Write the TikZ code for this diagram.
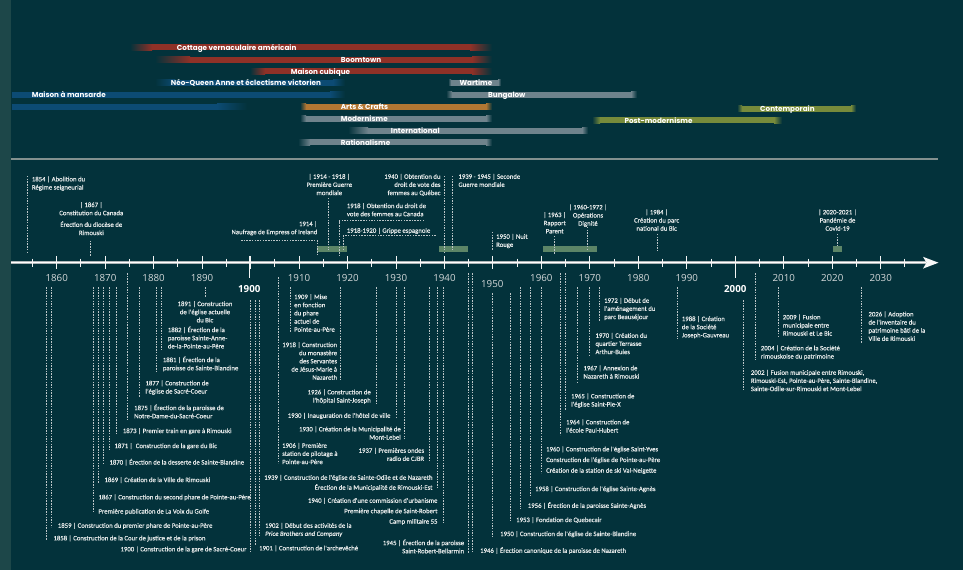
\documentclass[tikz,border=0pt]{standalone}
\usepackage{fontspec}
\setmainfont{Carlito}
\newfontfamily\evfont[FakeBold=0.35]{Carlito}
\newfontfamily\yearfont{Open Sans}
\newfontfamily\stylefont{Poppins}
\definecolor{bg}{HTML}{03323B}
\definecolor{edge}{HTML}{1D4749}
\definecolor{barred}{HTML}{8F3127}
\definecolor{barblue}{HTML}{0C4B74}
\definecolor{barorange}{HTML}{B27733}
\definecolor{bargray}{HTML}{6F838C}
\definecolor{barolive}{HTML}{778B3B}
\definecolor{bandgreen}{HTML}{5C8567}
\definecolor{evtext}{HTML}{E6EAEA}
\definecolor{leadgray}{HTML}{BCC5C7}
\definecolor{yeartext}{HTML}{D3D8D9}
\definecolor{axisgray}{HTML}{AEB5B7}
\definecolor{sepgray}{HTML}{83918F}

\begin{document}
\begin{tikzpicture}
  [x=1bp,y=-1bp,
   ev/.style={font=\evfont\fontsize{6.75}{8.2}\selectfont,text=evtext,inner sep=0pt,align=left,anchor=north west},
   evr/.style={ev,align=right,anchor=north east},
   evc/.style={ev,align=center,anchor=north},
   lead/.style={draw=leadgray,line width=0.7bp,dash pattern=on 1.5bp off 1.2bp},
   yr/.style={font=\yearfont\fontsize{9.8}{10}\selectfont,text=yeartext,inner sep=0pt},
   yrbold/.style={yr,font=\yearfont\bfseries\fontsize{9.8}{10}\selectfont,text=white},
   lbl/.style={font=\stylefont\bfseries\fontsize{7.25}{7.25}\selectfont,text=white,inner sep=0pt,anchor=west,text height=5bp,text depth=1.5bp}]
  \fill[bg] (0,0) rectangle (963,570);
  \fill[edge] (0,0) rectangle (11,570);
  \useasboundingbox (0,0) rectangle (963,570);

  % style bars
  \foreach \col/\xa/\xb/\y/\fa/\fb in {barred/130/492/47.5/22/22,barred/155/492/60/35/20,
      barred/250/492/71.5/15/20,barblue/155/345/83/20/12,barblue/11/345/95/0.5/15,
      barblue/11/247/107/0.5/30,barorange/300/492/107/6/6,bargray/300/492/119/6/6,
      bargray/348/588/131/20/6,bargray/298/492/142.5/12/6,bargray/448/501/83/3/3,
      bargray/446/637/95/6/6,barolive/737/856/109/5/5,barolive/592/782/120.5/8/8}
  {
    \shade[left color=bg,right color=\col] (\xa,\y-3) rectangle (\xa+\fa,\y+3);
    \fill[\col] (\xa+\fa,\y-3) rectangle (\xb-\fb,\y+3);
    \shade[left color=\col,right color=bg] (\xb-\fb,\y-3) rectangle (\xb,\y+3);
  }
  \node[lbl] (cottage) at (176.7,48.3) {Cottage vernaculaire américain};
  \node[lbl] (boomtown) at (340.7,60.8) {Boomtown};
  \node[lbl] (cubique) at (290.7,72.3) {Maison cubique};
  \node[lbl] (queenanne) at (170.7,83.8) {Néo-Queen Anne et éclectisme victorien};
  \node[lbl] (mansarde) at (31.7,95.8) {Maison à mansarde};
  \node[lbl] (arts) at (340.7,107.8) {Arts \& Crafts};
  \node[lbl] (modern) at (340.7,119.8) {Modernisme};
  \node[lbl] (intl) at (390.7,131.8) {International};
  \node[lbl] (ration) at (340.7,143.3) {Rationalisme};
  \node[lbl] (wartime) at (459.3,83.8) {Wartime};
  \node[lbl] (bungalow) at (488,95.8) {Bungalow};
  \node[lbl] (contemp) at (760,109.8) {Contemporain};
  \node[lbl] (postmod) at (624.3,121.3) {Post-modernisme};

  \draw[sepgray,line width=1.3bp] (11,159) -- (938.3,159);

  % periods on the axis
  \foreach \xa/\xb in {317.3/346.7,439.3/467.7,542.5/597.3,832.7/841.7}
    \fill[bandgreen] (\xa,246) rectangle (\xb,252);

  % axis
  \draw[axisgray,line width=3.2bp] (11,262.7) -- (926,262.7);
  \draw[white,line width=1bp] (11,262.7) -- (926,262.7);
  \fill[white!90!axisgray] (923,256.8) -- (938.5,262.7) -- (923,268.6) -- (926.5,262.7) -- cycle;
  \foreach \yr [evaluate=\yr as \xx using 56.7+(\yr-1860)*4.847] in {1855,1865,...,2035}
    \draw[white!85!axisgray,line width=0.9bp] (\xx,258.5) -- (\xx,267);
  \foreach \yr [evaluate=\yr as \xx using 56.7+(\yr-1860)*4.847] in {1860,1870,...,2030}
    \draw[white!85!axisgray,line width=0.9bp] (\xx,256) -- (\xx,268.5);
  \draw[white!85!axisgray,line width=0.9bp] (249.3,256) -- (249.3,278);
  \draw[white!85!axisgray,line width=0.9bp] (735.3,256) -- (735.3,278);
  \foreach \yr [evaluate=\yr as \xx using 56.7+(\yr-1860)*4.847] in {1860,1870,1880,1890,1910,1920,1930,1940,1960,1970,1980,1990,2010,2020,2030}
    \node[yr] (y\yr) at (\xx,278) {\yr};
  \node[yr] (y1950) at (492.3,284) {1950};
  \node[yrbold] (y1900) at (249.3,289) {1900};
  \node[yrbold] (y2000) at (735.3,289) {2000};

  % leaders
  \foreach \xx/\ya/\yb in {27.7/176/253,90/240.7/256,328.3/198/250,444/176/252,452.7/176/250,
      492.3/232/250,554.3/236/254,587.7/227/250,657.3/234/251,837.3/234/246,
      205/287/297,161.7/287/350,156.7/287/371,139.3/287/396.7,127.7/273/420,116.7/287/433.3,
      109/287/449.3,103.5/287/463.3,98.5/287/483.3,93/287/512,51.7/287/527.3,46.7/287/540,
      250.7/300/552,255/300/545,259.3/300/536,278.5/277/463.3,290.7/287/331.7,340.7/287/380,
      376/287/403.3,396/287/418.3,404/287/439.3,429.3/287/461.7,437.3/287/489,443.3/287/523.3,
      468.3/273/553,472.7/273/552,492.7/293/536.7,510/293/522.3,520.7/287/509,530.7/287/495,
      541.7/287/473.3,560/273/435,565.5/273/410,577.3/287/381.7,589.3/287/355,599.3/287/321.7,
      677.3/287/339,743.3/300/390,755.7/273/360,778.3/287/336.7,861.7/287/343.3}
    \draw[lead] (\xx,\ya) -- (\xx,\yb);
  \draw[lead] (241,240.7) -- (317,240.7) -- (317,254);
  \draw[lead] (424,220.7) -- (339.3,220.7) -- (339.3,255);
  \draw[lead] (435.7,235.7) -- (343.3,235.7) -- (343.3,250);

  % events above the axis
  \node[ev] (u1854) at (31.7,176.3) {1854 | Abolition du\\Régime seigneurial};
  \node[evc] (u1867) at (91.3,202) {| 1867 |\\Constitution du Canada\\[3.5bp]Érection du diocèse de\\Rimouski};
  \node[evr] (u1914) at (317.5,221) {1914 |\\Naufrage de Empress of Ireland};
  \node[evc] (u1916) at (329.3,173.7) {| 1914 - 1918 |\\Première Guerre\\mondiale};
  \node[ev] (u1918) at (346.7,203) {1918 | Obtention du droit de\\vote des femmes au Canada};
  \node[ev] (u1919) at (346.7,227.7) {1918-1920 | Grippe espagnole};
  \node[evr] (u1940) at (440.7,173.7) {1940 | Obtention du\\droit de vote des\\femmes au Québec};
  \node[ev] (u1942) at (458.3,173.7) {1939 - 1945 | Seconde\\Guerre mondiale};
  \node[ev] (u1950) at (496,233.7) {1950 | Nuit\\Rouge};
  \node[evc] (u1963) at (554.7,212) {| 1963 |\\Rapport\\Parent};
  \node[evc] (u1966) at (588,204.3) {| 1960-1972 |\\Opérations\\Dignité};
  \node[evc] (u1984) at (656.7,209.3) {| 1984 |\\Création du parc\\national du Bic};
  \node[evc] (u2020) at (837.5,209.3) {| 2020-2021 |\\Pandémie de\\Covid-19};

  % events below the axis
  \node[evc] (e1891) at (205,301) {1891 | Construction\\de l'église actuelle\\du Bic};
  \node[ev] (e1882) at (167.7,326.3) {1882 | Érection de la\\paroisse Sainte-Anne-\\de-la-Pointe-au-Père};
  \node[ev] (e1881) at (162.7,356.3) {1881 | Érection de la\\paroisse de Sainte-Blandine};
  \node[ev] (e1877) at (145.3,380.3) {1877 | Construction de\\l'église de Sacré-Coeur};
  \node[ev] (e1875) at (134,404.3) {1875 | Érection de la paroisse de\\Notre-Dame-du-Sacré-Coeur};
  \node[ev] (e1873) at (122.7,428) {1873 | Premier train en gare à Rimouski};
  \node[ev] (e1871) at (114.3,443) {1871 |\ \ Construction de la gare du Bic};
  \node[ev] (e1870) at (109.3,458.7) {1870 | Érection de la desserte de Sainte-Blandine};
  \node[ev] (e1869) at (104.3,477) {1869 | Création de la Ville de Rimouski};
  \node[ev] (e1867) at (98.3,494.3) {1867 | Construction du second phare de Pointe-au-Père};
  \node[ev] (e1867b) at (98.3,508.7) {Première publication de La Voix du Golfe};
  \node[ev] (e1859) at (57.7,522.7) {1859 | Construction du premier phare de Pointe-au-Père};
  \node[ev] (e1858) at (53.3,535.3) {1858 | Construction de la Cour de justice et de la prison};
  \node[evr] (e1900) at (246.7,546.3) {1900 | Construction de la gare de Sacré-Coeur};
  \node[ev] (e1901) at (259,545.3) {1901 | Construction de l'archevêché};
  \node[ev] (e1902) at (265,522.7) {1902 | Début des activités de la\\\textit{Price Brothers and Company}};
  \node[ev] (e1906) at (282,442.7) {1906 | Première\\station de pilotage à\\Pointe-au-Père};
  \node[ev] (e1909) at (294,294) {1909 | Mise\\en fonction\\du phare\\actuel de\\Pointe-au-Père};
  \node[evr] (e1918) at (337.3,342) {1918 | Construction\\du monastère\\des Servantes\\de Jésus-Marie à\\Nazareth};
  \node[evr] (e1926) at (371,389.3) {1926 | Construction de\\l'hôpital Saint-Joseph};
  \node[evr] (e1930) at (390.7,412.7) {1930 | Inauguration de l'hôtel de ville};
  \node[evr] (e1930b) at (401,426.3) {1930 | Création de la Municipalité de\\Mont-Lebel};
  \node[evr] (e1937) at (424.3,447.7) {1937 | Premières ondes\\radio de CJBR};
  \node[evr] (e1939) at (432.7,474.7) {1939 | Construction de l'église de Sainte-Odile et de Nazareth\\[1.8bp]Érection de la Municipalité de Rimouski-Est};
  \node[evr] (e1940) at (437.7,497.7) {1940 | Création d'une commission d'urbanisme\\[2.3bp]Première chapelle de Saint-Robert\\[2.3bp]Camp militaire 55};
  \node[evr] (e1945) at (464.3,539.3) {1945 | Érection de la paroisse\\Saint-Robert-Bellarmin};
  \node[ev] (e1946) at (480,547) {1946 | Érection canonique de la paroisse de Nazareth};
  \node[ev] (e1950) at (500,531) {1950 | Construction de l'église de Sainte-Blandine};
  \node[ev] (e1953) at (516,517) {1953 | Fondation de Quebecair};
  \node[ev] (e1956) at (527.7,502) {1956 | Érection de la paroisse Sainte-Agnès};
  \node[ev] (e1958) at (535,486) {1958 | Construction de l'église Sainte-Agnès};
  \node[ev] (e1960) at (546,446.3) {1960 | Construction de l'église Saint-Yves\\[2.5bp]Construction de l'église de Pointe-au-Père\\[2.5bp]Création de la station de ski Val-Neigette};
  \node[ev] (e1964) at (566,419.3) {1964 | Construction de\\l'école Paul-Hubert};
  \node[ev] (e1965) at (571,393.3) {1965 | Construction de\\l'église Saint-Pie-X};
  \node[ev] (e1967) at (583.3,365.3) {1967 | Annexion de\\Nazareth à Rimouski};
  \node[ev] (e1970) at (595.3,332.7) {1970 | Création du\\quartier Terrasse\\Arthur-Buies};
  \node[ev] (e1972) at (604,297.7) {1972 | Début de\\l'aménagement du\\parc Beauséjour};
  \node[ev] (e1988) at (681.7,316) {1988 | Création\\de la Société\\Joseph-Gauvreau};
  \node[ev] (e2002) at (750.7,369.7) {2002 | Fusion municipale entre Rimouski,\\Rimouski-Est, Pointe-au-Père, Sainte-Blandine,\\Sainte-Odile-sur-Rimouski et Mont-Lebel};
  \node[ev] (e2004) at (760.7,345.3) {2004 | Création de la Société\\rimouskoise du patrimoine};
  \node[ev] (e2009) at (782.7,314.3) {2009 | Fusion\\municipale entre\\Rimouski et Le Bic};
  \node[ev] (e2026) at (868.3,311.3) {2026 | Adoption\\de l'inventaire du\\patrimoine bâti de la\\Ville de Rimouski};
\end{tikzpicture}
\end{document}
